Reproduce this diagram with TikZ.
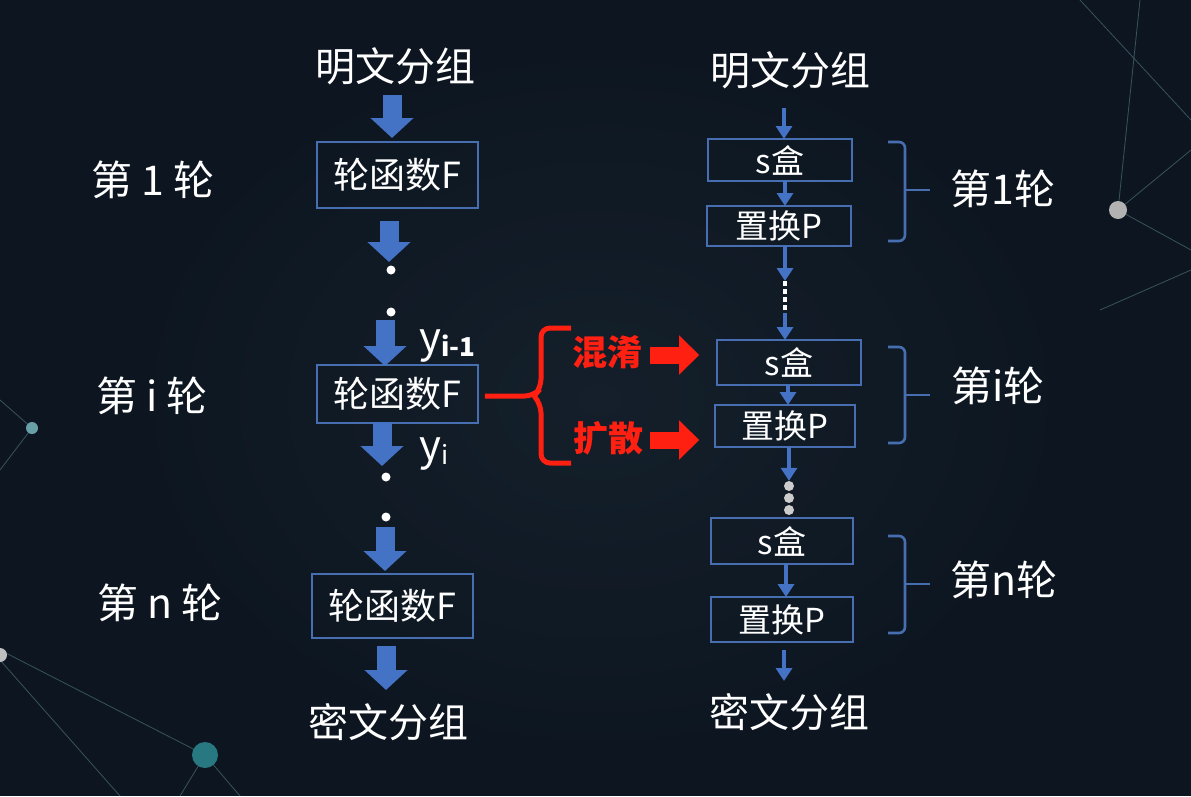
\documentclass[tikz,border=0pt]{standalone}
\usepackage{fontspec}
\setmainfont{Noto Sans CJK SC}
\usetikzlibrary{arrows.meta}
\definecolor{bg}{RGB}{13,22,32}
\definecolor{bgglow}{RGB}{22,34,46}
\definecolor{boxblue}{RGB}{72,110,178}
\definecolor{arrblue}{RGB}{68,114,196}
\definecolor{redc}{RGB}{255,32,18}
\definecolor{teal}{RGB}{40,120,130}
\begin{document}
\begin{tikzpicture}[x=1pt,y=-1pt,
  box/.style={draw=boxblue, line width=1.6pt, text=white, inner sep=0pt, font=\fontsize{36}{36}\selectfont},
  sbox/.style={draw=boxblue, line width=1.6pt, text=white, inner sep=0pt, font=\fontsize{33}{33}\selectfont},
  lbl/.style={text=white, font=\fontsize{41}{41}\selectfont, inner sep=0pt},
  big/.style={text=white, font=\fontsize{40}{40}\selectfont, inner sep=0pt},
  redlbl/.style={text=redc, font=\fontsize{35}{35}\selectfont\bfseries, inner sep=0pt},
  blockarrow/.style={draw=arrblue, line width=19pt, -{Triangle[length=20pt,width=42pt]}},
  redarrow/.style={draw=redc, line width=17pt, -{Triangle[length=20pt,width=38pt]}},
  thinarrow/.style={draw=arrblue, line width=3.6pt, -{Triangle[length=13pt,width=16pt]}},
  dotn/.style={circle, fill=white, inner sep=0pt, minimum size=9pt},
  greydot/.style={circle, fill=gray!40, inner sep=0pt, minimum size=10pt},
  bracket/.style={draw=boxblue, line width=2.6pt, rounded corners=6pt},
  netline/.style={draw=teal!60, line width=0.8pt, opacity=0.4},
]
% background
\fill[bg] (0,0) rectangle (1191,796);
\shade[inner color=bgglow, outer color=bg, opacity=0.8] (600,400) ellipse [x radius=500pt, y radius=380pt];
\useasboundingbox (0,0) rectangle (1191,796);
% faint network decoration
\draw[netline] (0,650) -- (205,755) -- (240,796);
\draw[netline] (0,660) -- (120,796);
\draw[netline] (205,755) -- (180,796);
\draw[netline] (0,470) -- (32,428) -- (0,400);
\draw[netline] (1191,150) -- (1118,210) -- (1191,250);
\draw[netline] (1080,0) -- (1191,120);
\draw[netline] (1118,210) -- (1140,0);
\draw[netline] (1191,270) -- (1100,310);
\fill[teal] (205,755) circle (13pt);
\fill[teal!70] (32,428) circle (6pt);
\fill[gray!60] (1118,210) circle (9pt);
\fill[gray!50] (0,655) circle (7pt);

% ---------- left column ----------
\node[big] (pt1) at (395,66) {明文分组};
\node[box, minimum width=161pt, minimum height=66pt] (F1) at (397.5,175) {轮函数F};
\node[box, minimum width=161pt, minimum height=58pt] (F2) at (397.5,394) {轮函数F};
\node[box, minimum width=161pt, minimum height=64pt] (F3) at (392.5,606) {轮函数F};
\node[big] (ct1) at (388,722) {密文分组};

\node[lbl] (r1) at (153,180) {第 1 轮};
\node[lbl] (ri) at (152,396) {第 i 轮};
\node[lbl] (rn) at (160,603) {第 n 轮};

\node[dotn] (d1) at (391,270) {};
\node[dotn] (d2) at (391,312) {};
\node[dotn] (d3) at (386,477) {};
\node[dotn] (d4) at (386,517) {};

\coordinate (a1s) at (392,95);  \coordinate (a1e) at (392,138);
\coordinate (a2s) at (389,221); \coordinate (a2e) at (389,262);
\coordinate (a3s) at (385,320); \coordinate (a3e) at (385,366);
\coordinate (a4s) at (382,422); \coordinate (a4e) at (382,466);
\coordinate (a5s) at (385,527); \coordinate (a5e) at (385,571);
\coordinate (a6s) at (386,646); \coordinate (a6e) at (386,690);
\draw[blockarrow] (a1s) -- (a1e);
\draw[blockarrow] (a2s) -- (a2e);
\draw[blockarrow] (a3s) -- (a3e);
\draw[blockarrow] (a4s) -- (a4e);
\draw[blockarrow] (a5s) -- (a5e);
\draw[blockarrow] (a6s) -- (a6e);

\node[text=white, inner sep=0pt, anchor=base west] (yim1) at (419,352)
  {{\fontsize{42}{42}\selectfont y}\raisebox{-4pt}{\fontsize{26}{26}\selectfont\bfseries i-1}};
\node[text=white, inner sep=0pt, anchor=base west] (yi) at (419,460)
  {{\fontsize{42}{42}\selectfont y}\raisebox{-4pt}{\fontsize{26}{26}\selectfont i}};

% ---------- red brace ----------
\coordinate (bt) at (571,328);
\coordinate (bb) at (571,463);
\draw[redc, line width=5pt, rounded corners=9pt]
  (F2.east |- 0,396) ++(6,0) -- (534,396) -- (541,388) -- (541,328) -- (bt);
\draw[redc, line width=5pt, rounded corners=9pt]
  (534,396) -- (541,404) -- (541,463) -- (bb);
\node[redlbl] (hx) at (607,352) {混淆};
\node[redlbl] (ks) at (608,438) {扩散};

% ---------- right column ----------
\node[big] (pt2) at (790,70) {明文分组};
\node[sbox, minimum width=144pt, minimum height=42pt] (s1) at (780,160) {s盒};
\node[sbox, minimum width=144pt, minimum height=40pt] (p1) at (779,226) {置换P};
\node[sbox, minimum width=144pt, minimum height=45pt] (s2) at (789,362.5) {s盒};
\node[sbox, minimum width=140pt, minimum height=42pt] (p2) at (785,426) {置换P};
\node[sbox, minimum width=142pt, minimum height=46pt] (s3) at (782,541) {s盒};
\node[sbox, minimum width=142pt, minimum height=45pt] (p3) at (782,619.5) {置换P};
\node[big] (ct2) at (789,712) {密文分组};

\coordinate (h0) at (650,355);
\coordinate (k0) at (650,440);
\draw[redarrow] (h0) -- ([xshift=-17pt]s2.west |- h0);
\draw[redarrow] (k0) -- ([xshift=-15pt]p2.west |- k0);

\coordinate (t0) at (784,108);
\draw[thinarrow] (t0) -- (784,139);
\draw[thinarrow] (785,181) -- (785,206);
\coordinate (dots1) at (785,281);
\draw[thinarrow] (785,246) -- (dots1);
\draw[white, line width=3.4pt, dash pattern=on 5pt off 3pt] (dots1) -- (785,313);
\draw[thinarrow] (785,313) -- (785,340);
\draw[thinarrow] (788,385) -- (788,405);
\node[greydot] (g1) at (789,486) {};
\node[greydot] (g2) at (789,498) {};
\node[greydot] (g3) at (789,510) {};
\draw[thinarrow] (789,447) -- (g1.north);
\draw[thinarrow] (786,564) -- (786,597);
\draw[thinarrow] (784,650) -- (784,681);

% brackets
\draw[bracket] (888,142) -- (905,142) -- (905,190) -- (905,241) -- (888,241);
\draw[bracket] (905,190) -- (930,190);
\draw[bracket] (888,347) -- (905,347) -- (905,395) -- (905,443) -- (888,443);
\draw[bracket] (905,395) -- (930,395);
\draw[bracket] (888,536) -- (905,536) -- (905,584) -- (905,633) -- (888,633);
\draw[bracket] (905,584) -- (930,584);
\node[lbl] (q1) at (1003,189) {第1轮};
\node[lbl] (qi) at (998,386) {第i轮};
\node[lbl] (qn) at (1004,580) {第n轮};
\end{tikzpicture}
\end{document}
